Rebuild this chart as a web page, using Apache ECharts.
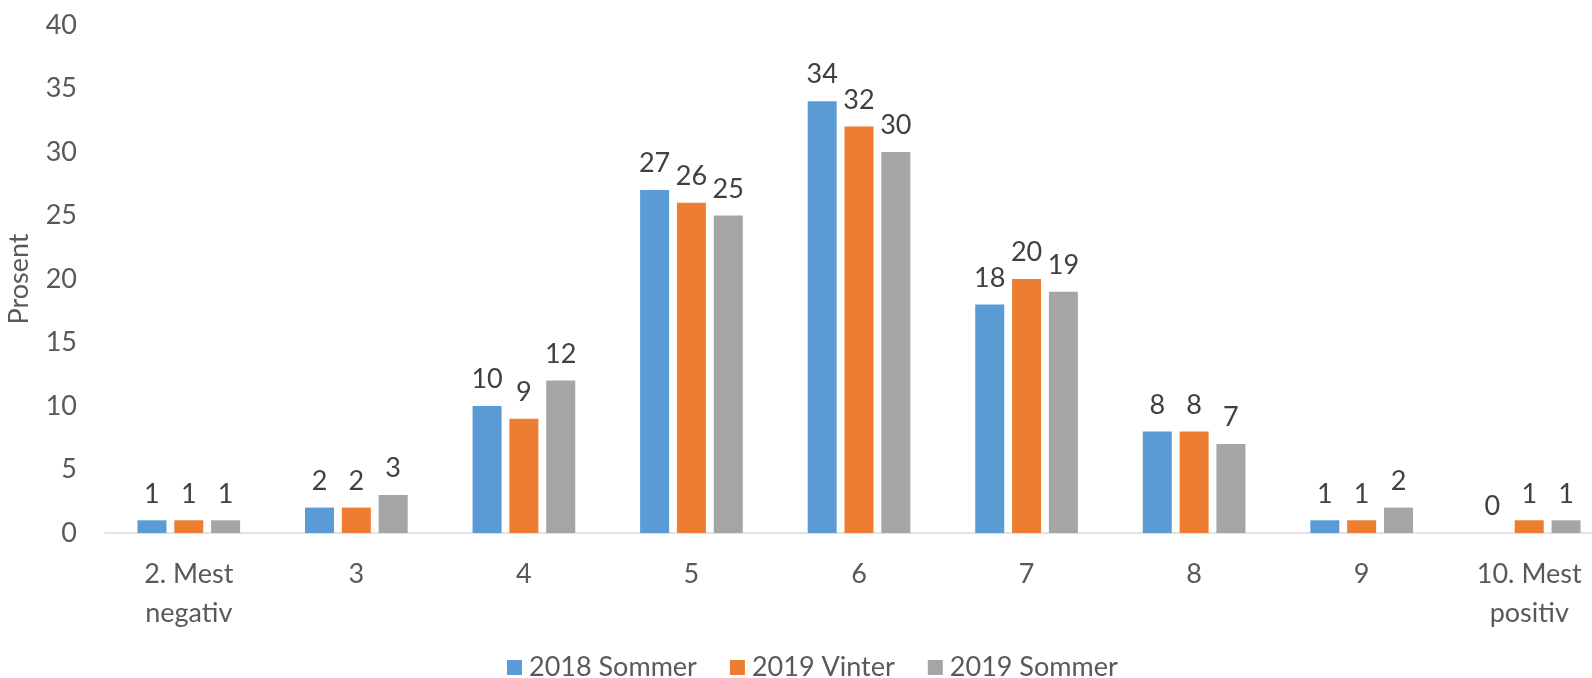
<!DOCTYPE html>
<html>
<head>
<meta charset="utf-8">
<script src="https://cdn.jsdelivr.net/npm/echarts@6/dist/echarts.min.js"></script>
<style>
  html, body { margin: 0; padding: 0; background: #fff; }
  #chart { width: 1592px; height: 678px; }
</style>
</head>
<body>
<div id="chart"></div>
<script>
const categories = ['2. Mest\nnegativ', '3', '4', '5', '6', '7', '8', '9', '10. Mest\npositiv']
const sommer2018 = [1, 2, 10, 27, 34, 18, 8, 1, 0]
const vinter2019 = [1, 2, 9, 26, 32, 20, 8, 1, 1]
const sommer2019 = [1, 3, 12, 25, 30, 19, 7, 2, 1]
const seriesNames = ['2018 Sommer', '2019 Vinter', '2019 Sommer']
const colors = ['#5B9BD5', '#ED7D31', '#A5A5A5']

const font = 'Lato, "Open Sans", sans-serif'
const fs = 27
const chart = echarts.init(document.getElementById('chart'))

const makeSeries = (name, data, i) => ({
  name,
  type: 'bar',
  data,
  barWidth: 29,
  barGap: '27%',
  itemStyle: { color: colors[i] },
  label: {
    show: true,
    position: 'top',
    distance: 13,
    color: '#404040',
    fontSize: fs,
    fontFamily: font
  }
})

chart.setOption({
  animation: false,
  textStyle: { fontFamily: font },
  grid: { left: 105, top: 25, width: 1508, height: 508, outerBoundsMode: 'none', containLabel: false },
  legend: {
    left: 502,
    top: 649,
    itemWidth: 15,
    itemHeight: 15,
    itemGap: 33,
    icon: 'rect',
    textStyle: { color: '#595959', fontSize: fs, fontFamily: font, padding: [0, 0, 0, 2] },
    data: seriesNames
  },
  xAxis: {
    type: 'category',
    data: categories,
    axisLine: { lineStyle: { color: '#D9D9D9', width: 1.5 } },
    axisTick: { show: false },
    axisLabel: { color: '#595959', fontSize: fs, fontFamily: font, margin: 22, lineHeight: 39 }
  },
  yAxis: {
    type: 'value',
    min: 0,
    max: 40,
    interval: 5,
    name: 'Prosent',
    nameLocation: 'middle',
    nameGap: 72,
    nameTextStyle: { color: '#595959', fontSize: fs, fontFamily: font },
    axisLine: { show: false },
    axisTick: { show: false },
    splitLine: { show: false },
    axisLabel: { color: '#595959', fontSize: fs, fontFamily: font, margin: 28 }
  },
  series: [
    makeSeries(seriesNames[0], sommer2018, 0),
    makeSeries(seriesNames[1], vinter2019, 1),
    makeSeries(seriesNames[2], sommer2019, 2)
  ]
})
</script>
</body>
</html>
